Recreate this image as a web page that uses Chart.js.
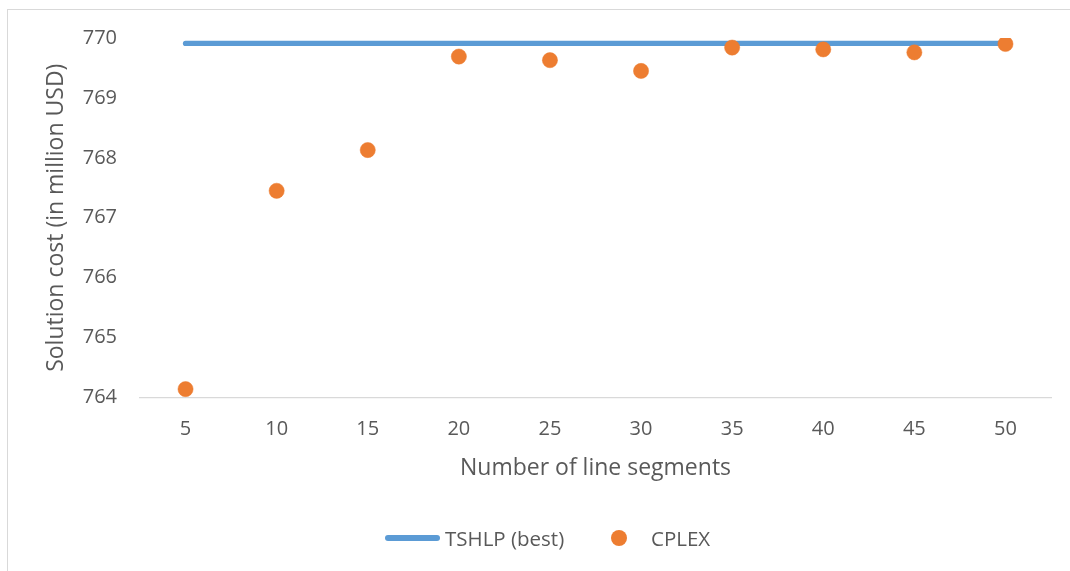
<!DOCTYPE html>
<html>
<head>
<meta charset="utf-8">
<script src="https://cdn.jsdelivr.net/npm/chart.js@4.4.1/dist/chart.umd.min.js"></script>
<style>
  html, body { margin: 0; padding: 0; background: #ffffff; overflow: hidden; }
  #wrap { position: relative; width: 1070px; height: 571px; }
  #frame {
    position: absolute; left: 7px; top: 9px; width: 1100px; height: 600px;
    border-left: 1.5px solid #d9d9d9; border-top: 1.5px solid #d9d9d9;
  }
  #chart { position: absolute; left: 0; top: 0; }
  #legend {
    position: absolute; top: 538px; left: 0; width: 1070px; height: 0;
    font-family: "Open Sans", sans-serif; font-size: 20.5px; color: #595959;
  }
  .lg { position: absolute; top: 0; transform: translateY(-50%); white-space: nowrap; line-height: 1; }
  .swatch-line { position: absolute; top: -2.6px; height: 5.2px; border-radius: 3px; }
  .swatch-dot { position: absolute; border-radius: 50%; }
</style>
</head>
<body>
<div id="wrap">
  <div id="frame"></div>
  <canvas id="chart" width="1070" height="571"></canvas>
  <div id="legend"></div>
</div>
<script>
// Number of line segments used in the piecewise-linear approximation
const segments = ['5', '10', '15', '20', '25', '30', '35', '40', '45', '50'];
// Best cost found by TSHLP (constant across segment counts)
const tshlpBest = [769.91, 769.91, 769.91, 769.91, 769.91, 769.91, 769.91, 769.91, 769.91, 769.91];
// CPLEX solution cost for each segment count
const cplex = [764.14, 767.45, 768.13, 769.69, 769.63, 769.45, 769.84, 769.81, 769.76, 769.90];
// Y-axis range and step (million USD)
const yMin = 764, yMax = 770, yStep = 1;

const seriesNames = ['TSHLP (best)', 'CPLEX'];
const BLUE = '#5B9BD5', ORANGE = '#ED7D31', TEXT = '#595959', AXIS = '#d9d9d9';
const FONT = '"Open Sans", sans-serif';

new Chart(document.getElementById('chart'), {
  type: 'line',
  data: {
    labels: segments,
    datasets: [
      {
        label: seriesNames[0],
        data: tshlpBest,
        borderColor: BLUE,
        backgroundColor: BLUE,
        borderWidth: 5.3,
        borderCapStyle: 'round',
        pointRadius: 0,
        pointHoverRadius: 0,
        fill: false,
        order: 1
      },
      {
        label: seriesNames[1],
        data: cplex,
        showLine: false,
        borderColor: ORANGE,
        backgroundColor: ORANGE,
        pointRadius: 7.6,
        pointBorderWidth: 0.5,
        pointBorderColor: ORANGE,
        pointBackgroundColor: ORANGE,
        order: 0
      }
    ]
  },
  options: {
    responsive: false,
    animation: false,
    events: [],
    layout: { padding: { left: 0, top: 38, right: 19, bottom: 78.5 } },
    plugins: { legend: { display: false }, tooltip: { enabled: false } },
    scales: {
      x: {
        type: 'category',
        offset: true,
        grid: { display: false, drawTicks: false },
        border: { display: true, color: AXIS, width: 1.3 },
        ticks: { color: TEXT, font: { family: FONT, size: 20 }, padding: 20, maxRotation: 0, autoSkip: false },
        title: {
          display: true, text: 'Number of line segments', color: TEXT,
          font: { family: FONT, size: 23 }, padding: { top: 0, bottom: 10 }
        },
        afterFit: s => { s.height = 95; }
      },
      y: {
        min: yMin, max: yMax,
        grid: { display: false, drawTicks: false },
        border: { display: false },
        ticks: { stepSize: yStep, color: TEXT, font: { family: FONT, size: 20 }, padding: 23 },
        title: {
          display: true, text: 'Solution cost (in million USD)', color: TEXT,
          font: { family: FONT, size: 23 }, padding: { top: 43, bottom: 0 }
        },
        afterFit: s => { s.width = 140; }
      }
    }
  }
});

// Legend row under the chart
const legend = document.getElementById('legend');
legend.innerHTML =
  '<div class="swatch-line" style="left:385px;width:55px;background:' + BLUE + '"></div>' +
  '<div class="lg" style="left:445px">' + seriesNames[0] + '</div>' +
  '<div class="swatch-dot" style="left:611px;top:-8px;width:16px;height:16px;background:' + ORANGE + '"></div>' +
  '<div class="lg" style="left:651px">' + seriesNames[1] + '</div>';
</script>
</body>
</html>
